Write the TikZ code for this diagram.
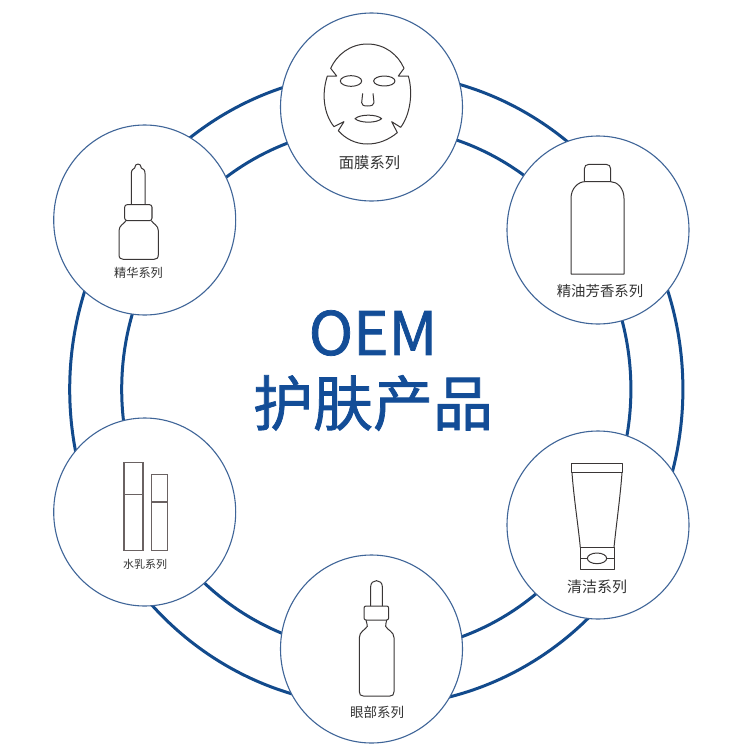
\documentclass[tikz,border=0pt]{standalone}
\usepackage{fontspec}
\setmainfont{Liberation Sans}
\newfontfamily\cjk{Noto Sans CJK SC}
\newfontfamily\cjkb[FakeBold=1.2]{Noto Sans CJK SC}
\definecolor{ringblue}{HTML}{124A8C}
\definecolor{edgeblue}{HTML}{3F6598}
\definecolor{icon}{HTML}{3A3636}
\definecolor{icontwo}{HTML}{6A6262}
\definecolor{titleblue}{HTML}{134D97}
\definecolor{lab}{HTML}{333333}
\tikzset{x=1pt,y=-1pt,
 ring/.style={draw=ringblue,line width=3pt},
 bubble/.style={draw=edgeblue,line width=1.1pt,fill=white},
 ic/.style={draw=icon,line width=1pt,line join=round},
 ictwo/.style={draw=icontwo,line width=1.1pt,line join=miter},
 lbl/.style={text=lab,inner sep=0pt},
 ttl/.style={text=titleblue,inner sep=0pt}}
\begin{document}
\begin{tikzpicture}
\useasboundingbox (0,0) rectangle (750,750);
\fill[white] (0,0) rectangle (750,750);
\coordinate (c) at (376.3,389.3);
\draw[ring] (c) ellipse[x radius=306.6,y radius=316.7];
\draw[ring] (c) ellipse[x radius=254.6,y radius=262.6];
\draw[bubble] (371.5,107) ellipse[x radius=91,y radius=94];
\draw[bubble] (598,230) ellipse[x radius=91,y radius=94];
\draw[bubble] (598,525) ellipse[x radius=91,y radius=94];
\draw[bubble] (371.5,649) ellipse[x radius=91,y radius=94];
\draw[bubble] (144.7,512) ellipse[x radius=91,y radius=94];
\draw[bubble] (144.7,220) ellipse[x radius=91,y radius=95];
\node[ttl,font=\cjkb\fontsize{60}{60}\selectfont] (t1) at (373,333) {OEM};
\node[ttl,font=\cjkb\fontsize{60}{60}\selectfont] (t2) at (373,403) {护肤产品};
\node[lbl,font=\cjk\fontsize{15.3}{16}\selectfont] (la) at (369.5,163) {面膜系列};
\node[lbl,font=\cjk\fontsize{12.2}{13}\selectfont] (lg) at (138.5,273) {精华系列};
\node[lbl,font=\cjk\fontsize{14.4}{15}\selectfont] (lb) at (600,291) {精油芳香系列};
\node[lbl,font=\cjk\fontsize{15}{16}\selectfont] (ld) at (597,587) {清洁系列};
\node[lbl,font=\cjk\fontsize{11}{12}\selectfont] (lf) at (145,564) {水乳系列};
\node[lbl,font=\cjk\fontsize{13.5}{14}\selectfont] (le) at (377,712) {眼部系列};
% mask
\begin{scope}[shift={(280,0)},scale=0.33333]
\draw[ic] (262,132) .. controls (315,132) and (355,165) .. (372,205) -- (355,228) -- (385,228)
 .. controls (400,280) and (390,345) .. (362,382) -- (335,365) -- (352,398)
 .. controls (325,420) and (295,432) .. (262,432) .. controls (225,432) and (195,415) .. (175,392)
 -- (192,365) -- (162,380) .. controls (130,340) and (125,280) .. (142,228) -- (170,228) -- (152,205)
 .. controls (170,165) and (210,132) .. (262,132) -- cycle;
\draw[ic] (213,243) ellipse[x radius=32,y radius=16];
\draw[ic] (313,243) ellipse[x radius=32,y radius=15];
\draw[ic] (248,280) -- (245,308) .. controls (245,315) and (250,318) .. (262,318) .. controls (275,318) and (282,315) .. (282,308) -- (279,280);
\draw[ic] (225,356) .. controls (240,342) and (290,342) .. (305,356) .. controls (290,370) and (240,370) .. (225,356) -- cycle;
\end{scope}
% essence bottle
\begin{scope}[shift={(50,120)},scale=0.33333]
\draw[ic] (244,254) -- (244,160) .. controls (244,150) and (250,146) .. (254,144) .. controls (254,128) and (274,128) .. (274,144) .. controls (280,146) and (285,150) .. (285,160) -- (285,254);
\draw[ic,rounded corners=2.5pt] (224,254) rectangle (306,302);
\draw[ic] (228,302) .. controls (222,312) and (207,316) .. (207,332) -- (207,404) .. controls (207,414) and (212,418) .. (220,418) -- (312,418) .. controls (320,418) and (325,414) .. (325,404) -- (325,332) .. controls (325,316) and (310,312) .. (304,302);
\end{scope}
% oil bottle
\begin{scope}[shift={(505,135)},scale=0.33333]
\draw[ic] (238,140) -- (238,102) .. controls (238,93) and (243,88) .. (252,88) -- (303,88) .. controls (312,88) and (317,93) .. (317,102) -- (317,140);
\draw[ic] (198,417) -- (198,190) .. controls (198,160) and (220,140) .. (240,140) -- (317,140) .. controls (337,140) and (357,160) .. (357,190) -- (357,417) -- cycle;
\end{scope}
% tube
\begin{scope}[shift={(505,430)},scale=0.33333]
\draw[ic] (199,100) rectangle (353,128);
\draw[ic] (201,128) .. controls (206,200) and (220,290) .. (226,353);
\draw[ic] (351,128) .. controls (346,200) and (333,290) .. (327,353);
\draw[ic] (226,353) rectangle (327,417);
\draw[ic] (226,385) -- (247,385);
\draw[ic] (305,385) -- (327,385);
\draw[ic] (276,385) ellipse[x radius=29,y radius=16];
\end{scope}
% lotion bottles
\begin{scope}[shift={(50,420)},scale=0.33333]
\draw[ictwo] (222,128) rectangle (279,392);
\draw[ictwo] (222,224) -- (279,224);
\draw[ictwo] (304,164) rectangle (352,392);
\draw[ictwo] (304,246) -- (352,246);
\end{scope}
% dropper bottle
\begin{scope}[shift={(280,555)},scale=0.33333]
\draw[ic] (272,153) -- (272,95) .. controls (272,71) and (307,71) .. (307,95) -- (307,153);
\draw[ic,rounded corners=2pt] (252,153) rectangle (326,195);
\draw[ic] (258,195) .. controls (258,205) and (264,208) .. (262,214) .. controls (255,225) and (238,230) .. (238,248) -- (238,410) .. controls (238,419) and (242,423) .. (250,423) -- (330,423) .. controls (338,423) and (342,419) .. (342,410) -- (342,248) .. controls (342,230) and (322,225) .. (317,214) .. controls (315,208) and (320,205) .. (320,195);
\end{scope}
\end{tikzpicture}
\end{document}
